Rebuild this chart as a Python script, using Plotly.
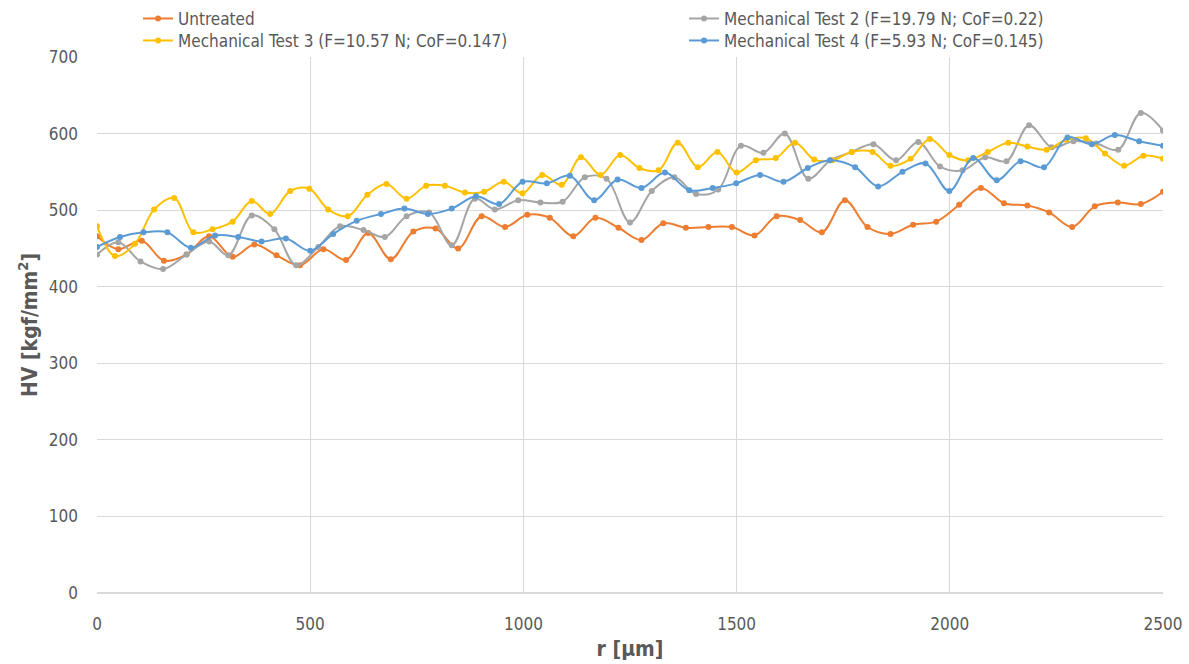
import plotly.graph_objects as go

# Vickers hardness profiles along the radius r
r_untreated = [0, 50, 105, 157, 210, 263, 318, 369, 421, 476, 531, 584, 636, 689, 742, 794,
               847, 902, 957, 1009, 1062, 1117, 1169, 1223, 1277, 1328, 1381, 1434, 1489, 1542,
               1594, 1649, 1700, 1754, 1807, 1861, 1914, 1968, 2022, 2073, 2127, 2182, 2233,
               2287, 2340, 2394, 2448, 2500]
hv_untreated = [466, 449, 460, 434, 442, 466, 439, 455, 441, 428, 449, 435, 470, 436, 472, 476,
                450, 492, 478, 494, 490, 466, 490, 477, 461, 483, 477, 478, 478, 467,
                492, 487, 471, 513, 478, 469, 481, 485, 507, 529, 509, 506, 497,
                478, 505, 510, 508, 524]

r_test2 = [0, 50, 102, 155, 210, 263, 308, 363, 416, 467, 519, 570, 625, 675, 726, 779, 832,
           886, 933, 988, 1040, 1092, 1144, 1195, 1250, 1301, 1354, 1405, 1457, 1510, 1563,
           1613, 1668, 1720, 1770, 1821, 1874, 1926, 1977, 2030, 2083, 2133, 2186, 2239, 2290,
           2343, 2395, 2448, 2500]
hv_test2 = [442, 458, 433, 423, 442, 459, 441, 493, 475, 428, 452, 479, 474, 465, 492, 497, 454,
            515, 501, 513, 510, 511, 543, 541, 484, 525, 543, 521, 527, 584, 575,
            600, 541, 565, 576, 586, 565, 589, 557, 552, 569, 564, 611, 582, 590,
            587, 579, 627, 604]

r_test3 = [0, 42, 89, 134, 181, 226, 271, 318, 363, 406, 453, 498, 542, 588, 634, 679, 726, 772,
           816, 863, 908, 954, 998, 1044, 1090, 1135, 1181, 1227, 1272, 1317, 1362, 1409, 1455,
           1500, 1545, 1592, 1637, 1682, 1725, 1770, 1819, 1861, 1908, 1953, 1999, 2043, 2089,
           2137, 2182, 2227, 2273, 2319, 2364, 2409, 2454, 2500]
hv_test3 = [479, 440, 456, 501, 516, 471, 475, 485, 512, 495, 525, 528, 501, 492, 520, 534, 515, 532,
            532, 523, 524, 537, 522, 546, 533, 569, 546, 572, 555, 552, 588, 556, 576,
            549, 565, 568, 588, 566, 565, 576, 576, 558, 567, 593, 572, 565, 576,
            588, 583, 579, 592, 594, 574, 558, 571, 567]

r_test4 = [0, 54, 109, 165, 220, 277, 331, 386, 443, 500, 554, 609, 666, 721, 776, 832, 889, 943,
           998, 1055, 1109, 1166, 1221, 1277, 1332, 1389, 1444, 1499, 1555, 1610, 1667, 1719,
           1778, 1832, 1889, 1943, 1999, 2055, 2110, 2166, 2221, 2276, 2333, 2387, 2444, 2500]
hv_test4 = [452, 465, 471, 471, 451, 467, 465, 459, 463, 447, 469, 486, 495, 502, 495, 502, 518, 508,
            537, 535, 545, 513, 540, 529, 549, 526, 529, 535, 546, 537, 555, 565,
            556, 531, 550, 561, 525, 568, 539, 564, 556, 595, 586, 598, 590, 584]

# one legend box per entry so the 2 x 2 key sits on a fixed grid
series = [
    ("Untreated", r_untreated, hv_untreated, "#ED7D31", "legend"),
    ("Mechanical Test 2 (F=19.79 N; CoF=0.22)", r_test2, hv_test2, "#A5A5A5", "legend2"),
    ("Mechanical Test 3 (F=10.57 N; CoF=0.147)", r_test3, hv_test3, "#FFC000", "legend3"),
    ("Mechanical Test 4 (F=5.93 N; CoF=0.145)", r_test4, hv_test4, "#5B9BD5", "legend4"),
]

FONT = "Liberation Sans Narrow, DejaVu Sans Condensed, Roboto, sans-serif"
TEXT = "#595959"

fig = go.Figure()
for name, xs, ys, color, leg in series:
    fig.add_trace(go.Scatter(
        x=xs, y=ys, name=name, mode="lines+markers",
        line=dict(color=color, width=2, shape="spline", smoothing=1),
        marker=dict(color=color, size=6),
        legend=leg,
    ))

legend_style = dict(
    orientation="v", bgcolor="rgba(0,0,0,0)", itemwidth=30,
    font=dict(family=FONT, size=17, color=TEXT),
    xanchor="left", yanchor="middle",
)
col1, col2 = 0.0385, 0.5507
row1, row2 = 1.071, 1.030
fig.update_layout(
    width=1189, height=664,
    paper_bgcolor="white", plot_bgcolor="white",
    margin=dict(l=97, r=26, t=57, b=71, autoexpand=False),
    font=dict(family=FONT, color=TEXT),
    showlegend=True,
    legend=dict(x=col1, y=row1, **legend_style),
    legend2=dict(x=col2, y=row1, **legend_style),
    legend3=dict(x=col1, y=row2, **legend_style),
    legend4=dict(x=col2, y=row2, **legend_style),
    xaxis=dict(
        range=[0, 2500], tickvals=[0, 500, 1000, 1500, 2000, 2500],
        showgrid=True, gridcolor="#D9D9D9", gridwidth=1,
        zeroline=False, showline=False, ticks="", tickangle=0,
        ticklabelstandoff=19,
        tickfont=dict(family=FONT, size=17, color=TEXT),
        title=dict(text="<b>r [µm]</b>", font=dict(family=FONT, size=21, color=TEXT), standoff=8),
    ),
    yaxis=dict(
        range=[0, 700], tickvals=[0, 100, 200, 300, 400, 500, 600, 700],
        showgrid=True, gridcolor="#D9D9D9", gridwidth=1,
        zeroline=True, zerolinecolor="#D9D9D9", zerolinewidth=1.5,
        showline=False, ticks="", ticklen=0,
        ticklabelstandoff=18,
        tickfont=dict(family=FONT, size=17, color=TEXT),
        title=dict(text="<b>HV [kgf/mm<sup>2</sup>]</b>", font=dict(family=FONT, size=21, color=TEXT), standoff=5),
    ),
)

fig.write_html("out.html")
